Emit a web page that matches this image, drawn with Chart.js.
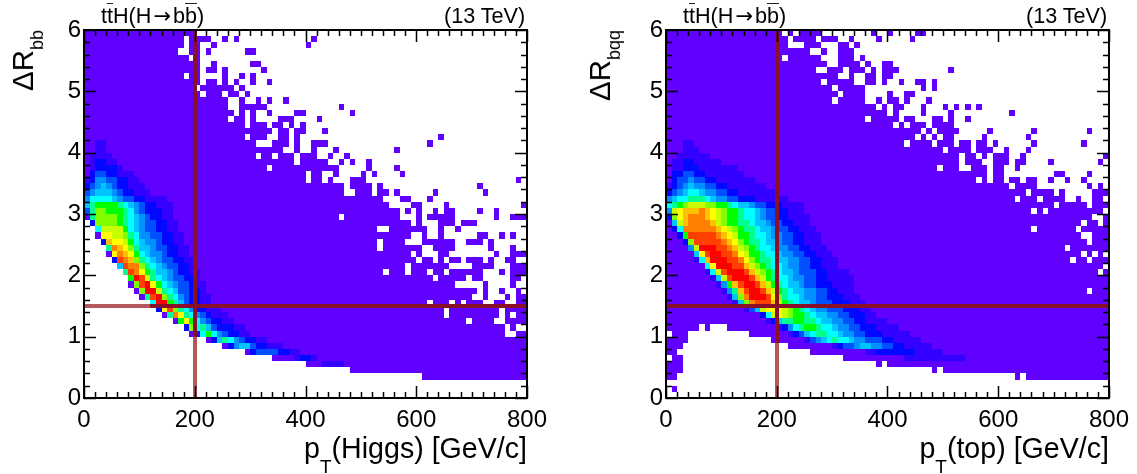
<!DOCTYPE html>
<html>
<head>
<meta charset="utf-8">
<title>ttH</title>
<script src="https://cdn.jsdelivr.net/npm/chart.js@4"></script>
<style>
  html, body { margin: 0; padding: 0; background: #fff; }
  #page { position: relative; width: 1137px; height: 474px; overflow: hidden; font-family: "Liberation Sans", sans-serif; color: #000; }
  canvas { position: absolute; top: 0; }
  .txt { position: absolute; white-space: nowrap; line-height: 1; }
  .head { font-size: 21.6px; top: 5px; }
  .ov { position: relative; }
  .ov::after { content: ''; position: absolute; left: 0; right: 0; top: 0; height: 1px; background: #222; }
  .arrow { font-family: "DejaVu Sans", sans-serif; font-size: 21px; margin: 0 2px; }
  .xt { font-size: 28.6px; top: 434px; }
  .xt sub { font-size: 19px; line-height: 0; vertical-align: -15px; }
  .yt { font-size: 29.5px; top: 30px; transform: translateX(-100%) rotate(-90deg); transform-origin: right top; }
  .yt sub { font-size: 18px; line-height: 0; vertical-align: -10px; }
</style>
</head>
<body>
<div id="page">
  <canvas id="higgsChart" width="560" height="474" style="left:0;width:560px;height:474px"></canvas>
  <canvas id="topChart" width="559" height="474" style="left:578px;width:559px;height:474px"></canvas>

  <div class="txt head" style="left:101px">t<span class="ov">t</span>H(H<span class="arrow">→</span>b<span class="ov">b</span>)</div>
  <div class="txt head" style="left:444px">(13 TeV)</div>
  <div class="txt yt" style="left:8px">ΔR<sub>bb</sub></div>
  <div class="txt xt" style="right:610px">p<sub>T</sub>(Higgs) [GeV/c]</div>

  <div class="txt head" style="left:683px">t<span class="ov">t</span>H(H<span class="arrow">→</span>b<span class="ov">b</span>)</div>
  <div class="txt head" style="left:1026px">(13 TeV)</div>
  <div class="txt yt" style="left:585px">ΔR<sub>bqq</sub></div>
  <div class="txt xt" style="right:28px">p<sub>T</sub>(top) [GeV/c]</div>
</div>

<script>
const xTickLabels = [0, 200, 400, 600, 800];
const yTickLabels = [0, 1, 2, 3, 4, 5, 6];
const xCut = 200;
const yCut = 1.5;
const xBinWidth = 10;
const yBinWidth = 0.1;

// colour level of each bin, top row (dR 5.9-6.0) first, '.' = empty bin
const levels = '0123456789abcdef';
const levelColors = [
  '#6000ff', '#3400ff', '#0008ff', '#0050ff', '#0090ff', '#00c4ff', '#00ffff', '#00ff90',
  '#00ff00', '#80ff00', '#c8ff00', '#ffff00', '#ffc000', '#ff8000', '#ff4000', '#ff0000'
];

const higgsRows = [
  '0000000000 0000000000 .......... .......... .......... .......... .......... ..........',
  '0000000000 00000000.0 000..0.0.. .......... .0........ .......... .......... ..........',
  '0000000000 00000000.0 0..0...... .......... 0......... .......... .......... ..........',
  '0000000000 0000000..0 0.0......0 0......... .......... .......... .......... ..........',
  '0000000000 000000000. 0......... .......... .......... .......... .......... ..........',
  '0000000000 0000000000 0..0...... 00........ .......... .......... .......... ..........',
  '0000000000 0000000000 0.00.0.... ..0....... .......... .......... .......... ..........',
  '0000000000 00000000.0 0....0..0. 0......... .......... .......... .......... ..........',
  '0000000000 0000000000 0.00.0.0.. 0..0...... .......... .......... .......... ..........',
  '0000000000 0000000000 .000000.0. .......... .......... .......... .......... ..........',
  '0000000000 0000000000 0.000.00.0 .......... .......... .......... .......... ..........',
  '0000000000 0000000000 000000..0. .0.0..0... .......... .......... .......... ..........',
  '0000000000 0000000000 000000..00 000....... ......0... .......... .......... ..........',
  '0000000000 0000000000 0000000.0. 0..0....00 ........0. .......... .......... ..........',
  '0000000000 0000000000 000000.00. 0....000.. ..0....... .......... .......... ..........',
  '0000000000 0000000000 000000000. 000.00.0.0 .......... .......... .......... ..........',
  '0000000000 0000000000 0000000000 0000.00.00 ...0...... .......... .......... ..........',
  '0000000000 0000000000 000000000. 000..00.0. .......... .......... ....0..... ..........',
  '0011000000 0000000000 0000000000 0...000.0. .000...... .......... ..0....... ..........',
  '0011000000 0000000000 0000000000 000000..0. .0...0.... ......0... .......... ..........',
  '0111100000 0000000000 0000000000 0.00.000.0 00..0..0.. .......... .......... ..........',
  '0122110000 0000000000 0000000000 00000000.0 0000..0.0. .0........ .......... ..........',
  '0122221000 0000000000 0000000000 000.000000 000000.... .0....0... .......... ..........',
  '0233221110 0000000000 0000000000 0000000000 .00..0.... 0.0....0.. .......... ..........',
  '1244332211 0000000000 0000000000 0000000000 .00.0...00 0......... .......... ........0.',
  '2345432211 1000000000 0000000000 0000000000 0000000.00 00.0...... .......... .0........',
  '3455543221 1100000000 0000000000 0000000000 0000000..0 00.00.0... ...0...... ..0.......',
  '4666654332 2111100000 0000000000 0000000000 0000000000 0000...00. ..0....... ..........',
  '5788887654 3221110000 0000000000 0000000000 0000000000 00000....0 0....0.... .........0',
  '3799888764 3222110000 0000000000 0000000000 0000000000 0000000.0. 0..0.00... .0..0.....',
  '0799998765 4322110000 0000000000 0000000000 000000.000 0000000... 0.00000... ....0..000',
  '.299998765 4332211000 0000000000 0000000000 0000000000 000000000. 0...000.00 0.........',
  '..6aaaa865 4332211000 0000000000 0000000000 0000000000 000..00000 00..0..0.. ..........',
  '..0bbaa976 4433221100 0000000000 0000000000 0000000000 000000000. .0..0..... .00..0.0..',
  '...2cbba86 5443221100 0000000000 0000000000 0000000000 000.0000.. .000000..0 00.0......',
  '....7dcb97 5543322110 0000000000 0000000000 0000000000 000.000000 0..0000... ...0...0..',
  '....0bdcb8 6544322110 0000000000 0000000000 0000000000 000000000. 0...00.... ....0..000',
  '.....2edc9 7654332211 0000000000 0000000000 0000000000 0000000000 .00.0.00.0 00.0..00..',
  '......5edd 9765433221 0000000000 0000000000 0000000000 00000000.0 000000.... 0000...000',
  '.......7ed b875543221 1000000000 0000000000 0000000000 0000.000.0 00.00.0000 00...0.000',
  '........8f ea76543322 1000000000 0000000000 0000000000 0000000000 000.00000. 00.....00.',
  '........09 efb8654332 1100000000 0000000000 0000000000 0000000000 0000000... ..0....0..',
  '.........0 9ffa765332 2100000000 0000000000 0000000000 0000000000 0000000000 0.0..0..0.',
  '.......... 07ef976432 2110000000 0000000000 0000000000 0000000000 0000000000 ..0...0.00',
  '.......... ..6ff87532 2110000000 0000000000 0000000000 0000000000 00.000.0.0 00..00..00',
  '.......... ...2be9764 2211100000 0000000000 0000000000 0000000000 00000.0000 00000.0000',
  '.......... ....07db76 4321110000 0000000000 0000000000 0000000000 00000.0000 00000.0.00',
  '.......... ......08b8 6432211000 0000000000 0000000000 0000000000 000000000. 0000..0000',
  '.......... ........29 6753222110 0000000000 0000000000 0000000000 0000000000 000000.0..',
  '.......... .........0 1686432211 0000000000 0000000000 0000000000 0000000000 000000..00',
  '.......... .......... ..02576432 2110000000 0000000000 0000000000 0000000000 0000000000',
  '.......... .......... .....02455 3221110000 0000000000 0000000000 0000000000 0000000000',
  '.......... .......... .........0 2333322110 0000000000 0000000000 0000000000 0000000000',
  '.......... .......... .......... ....000012 2100000000 0000000000 0000000000 0000000000',
  '.......... .......... .......... .......... 0001111000 0000000000 0000000000 0000000000',
  '.......... .......... .......... .......... ........00 0000000000 0000000000 0000000000',
  '.......... .......... .......... .......... .......... .......... .000000000 0000000000',
  '.......... .......... .......... .......... .......... .......... .......... ..........',
  '.......... .......... .......... .......... .......... .......... .......... ..........',
  '.......... .......... .......... .......... .......... .......... .......... ..........'
];

const topRows = [
  '0000000000 0000000000 0.0.0000.. .......0.. 0....00... .......... .......... ..........',
  '0000000000 0000000000 00.0000.00 0..0....0. ....0..... .......... .......... ..........',
  '0000000000 0000000000 00...000.. .00.0..... .......... .......... .......... ..........',
  '0000000000 0000000000 000000..0. .000...... .......... .......... .......... ..........',
  '0000000000 0000000000 0.000000.. .000.0.... .......... .......... .......... ..........',
  '0000000000 0000000000 000000000. .0000.0..0 0......... .......... .......... ..........',
  '0000000000 0000000000 0000000..0 00.000.0.0 00........ .0........ .......... ..........',
  '0000000000 0000000000 0000000000 0..0..00.0 0......... .......... .......... ..........',
  '0000000000 0000000000 00000000.0 0000..00.0 ..0..00.0. .......... .......... ..........',
  '0000000000 0000000000 0000000000 .00000.... ......0.0. .......... .......... ..........',
  '0000000000 0000000000 0000000000 0.0000.... 0..00..... .......... .......... ..........',
  '0000000000 0000000000 0000000000 .00000..0. 00.0...0.. .......... .......... ..........',
  '0000000000 0000000000 0000000000 00000000.0 .00...0... 0.0.0.0... .......... ..........',
  '0000000000 0000000000 0000000000 0000000000 .0....0... .0........ ..0....... ..........',
  '0000000000 0000000000 0000000000 000000.000 00.00...00 .0..0..... .......... ..........',
  '0000000000 0000000000 0000000000 0000000000 0.0.000.00 00........ .......... ..........',
  '0000000000 0000000000 0000000000 0000000000 000000.0.0 000.....0. ......0... ......0...',
  '0000000000 0000000000 0000000000 0000000000 00000.0.0. 00.....0.. .....0.... ..........',
  '0001100000 0000000000 0000000000 0000000000 000.0000.0 00.00.00.0 ......0... .....0....',
  '0001110000 0000000000 0000000000 0000000000 0000000000 .0000.000. .0...0.... ..........',
  '0011111100 0000000000 0000000000 0000000000 0000000000 000.00.0.0 00..0..... .........0',
  '0112211111 0000000000 0000000000 0000000000 0000000000 000.000..0 00.00....0 ........0.',
  '0112221111 1110000000 0000000000 0000000000 000000000. 000..000.0 0..0...... ..........',
  '0223322111 1111000000 0000000000 0000000000 0000000000 00000000.0 0......... 00....0...',
  '0233433221 1111110000 0000000000 0000000000 0000000000 000000.0.0 0.00.00..0 ..0..0....',
  '1234544332 2111111100 0000000000 0000000000 0000000000 0000000000 00.0000... ......0.0.',
  '2345665443 3221111111 0000000000 0000000000 0000000000 0000000000 00000.0000 .0.....000',
  '4566777654 4332221111 1100000000 0000000000 0000000000 0000000000 000.000.00 00..0..00.',
  '6789aaa998 8765543322 2111100000 0000000000 0000000000 0000000000 0000000000 .00000.000',
  '4abcccdcba 9887665433 2211100000 0000000000 0000000000 0000000000 000000.0.0 000000000.',
  '29bcdddcba 9887665433 2211110000 0000000000 0000000000 0000000000 0000000000 0000000..0',
  '05acddddca 9887765543 3221110000 0000000000 0000000000 0000000000 0000000000 00000.00.0',
  '026ddddddc ba98776554 3322111000 0000000000 0000000000 0000000000 000000.000 0000.00000',
  '0028eeeeed cba8876654 4332211100 0000000000 0000000000 0000000000 0000000000 00000..000',
  '00029eeeee dcb9877655 4332211100 0000000000 0000000000 0000000000 0000000000 000000.000',
  '00004afffe edca987665 4433221110 0000000000 0000000000 0000000000 0000000000 00.0000000',
  '000005beff eedba88766 5443322111 0000000000 0000000000 0000000000 0000000000 00000.0.0.',
  '0000016cff feedb98776 5544332211 1000000000 0000000000 0000000000 0000000000 000.00.000',
  '00000006bf ffeeca9876 6544332211 1000000000 0000000000 0000000000 0000000000 000000000.',
  '000000016a efffeca987 6554333221 1110000000 0000000000 0000000000 0000000000 00000000.0',
  '0000000015 aefffeca87 6654433221 1111000000 0000000000 0000000000 0000000000 0000000000',
  '0000000001 48ceffeca8 7655433222 1111000000 0000000000 0000000000 0000000000 0000000000',
  '0000000000 147ceffeca 8765544332 2111000000 0000000000 0000000000 0000000000 000000.000',
  '0000000000 0159dfffeb 9766544332 2211100000 0000000000 0000000000 0000000000 0000000000',
  '0000000000 00159deeec a876554333 2221110000 0000000000 0000000000 0000000000 0000000000',
  '0000000000 0000135abb ba98765443 3322211000 0000000000 0000000000 0000000000 0000000000',
  '0000000000 000000026a ba98876554 4332221100 0000000000 0000000000 0000000000 0000000000',
  '0000000000 0000000012 5778877655 4433221111 0000000000 0000000000 0000000000 0000000000',
  '000000.0.. .000000000 1246788766 5443322211 1100000000 0000000000 0000000000 0000000000',
  '.000...... .....00000 0012356776 6544332221 1111000000 0000000000 0000000000 0000000000',
  '0000...... .........0 0000013456 7665443332 2111110000 0000000000 0000000000 0000000000',
  '000....... .......... ..00000000 1233455443 3221111100 0000000000 0000000000 0000000000',
  '00........ .......... ......0000 0000001122 2222211111 0000000000 0000000000 0000000000',
  '.00....... .......... .......... ..00000000 0001111111 1111000000 0000000000 0000000000',
  '000....... .......... .......... ........0. 0000000000 0000000000 0000000000 0000000000',
  '000....... .......... .......... .......... ........0. 0000000000 0000000000 0000000000',
  '00........ .......... .......... .......... .......... .......... ...0.00000 0000000000',
  '.......... .......... .......... .......... .......... .......... .......... ..........',
  '.0........ .......... .......... .......... .......... .......... .......... ..........',
  '.......... .......... .......... .......... .......... .......... .......... ..........'
];

function rowsToCells(rows) {
  const cells = [];
  rows.forEach((row, r) => {
    row.replace(/ /g, '').split('').forEach((ch, c) => {
      if (ch === '.') return;
      cells.push({
        x: (c + 0.5) * xBinWidth,
        y: yTickLabels[yTickLabels.length - 1] - (r + 0.5) * yBinWidth,
        level: levels.indexOf(ch)
      });
    });
  });
  return cells;
}

// bins and cut lines, under the frame
const cellsPlugin = {
  id: 'cells',
  beforeDatasetsDraw(chart) {
    const { ctx, scales: { x, y } } = chart;
    const pts = chart.data.datasets[0].data;
    const filled = new Set();
    pts.forEach(p => {
      const l = Math.round(x.getPixelForValue(p.x - xBinWidth / 2));
      const r = Math.round(x.getPixelForValue(p.x + xBinWidth / 2));
      const t = Math.round(y.getPixelForValue(p.y + yBinWidth / 2));
      const b = Math.round(y.getPixelForValue(p.y - yBinWidth / 2));
      ctx.fillStyle = levelColors[p.level];
      ctx.fillRect(l, t, r - l, b - t);
      filled.add(Math.floor(p.x / xBinWidth) + ':' + Math.floor(p.y / yBinWidth + 0.001));
    });

    const dark = '#8a0f28';
    const light = '#b4585c';
    const has = (cx, cy) => filled.has(cx + ':' + cy);

    // horizontal cut, one piece per bin so it can change colour over empty bins
    const cutY = Math.round(y.getPixelForValue(yCut)) - 2;
    const cy = Math.round(yCut / yBinWidth);
    for (let c = 0; c < 80; c++) {
      const l = Math.round(x.getPixelForValue(c * xBinWidth));
      const r = Math.round(x.getPixelForValue((c + 1) * xBinWidth));
      ctx.fillStyle = has(c, cy) || has(c, cy - 1) ? dark : light;
      ctx.fillRect(l, cutY, r - l, 4);
    }
    // vertical cut
    const cutX = Math.round(x.getPixelForValue(xCut)) - 2;
    const cx = Math.round(xCut / xBinWidth);
    for (let r = 0; r < 60; r++) {
      const t = Math.round(y.getPixelForValue((r + 1) * yBinWidth));
      const b = Math.round(y.getPixelForValue(r * yBinWidth));
      ctx.fillStyle = has(cx, r) || has(cx - 1, r) ? dark : light;
      ctx.fillRect(cutX, t, 4, b - t);
    }
  },
  afterDatasetsDraw(chart) {
    const { ctx, chartArea: a, scales: { x, y } } = chart;
    ctx.save();
    ctx.strokeStyle = '#000';
    ctx.lineWidth = 1.5;
    ctx.beginPath();
    for (let v = 0; v <= 800; v += 20) {
      const px = Math.round(x.getPixelForValue(v)) + 0.5;
      const len = v % 200 === 0 ? 12 : 6;
      ctx.moveTo(px, a.bottom); ctx.lineTo(px, a.bottom - len);
      ctx.moveTo(px, a.top); ctx.lineTo(px, a.top + len);
    }
    for (let i = 0; i <= 30; i++) {
      const py = Math.round(y.getPixelForValue(i * 0.2)) + 0.5;
      const len = i % 5 === 0 ? 12 : 6;
      ctx.moveTo(a.left, py); ctx.lineTo(a.left + len, py);
      ctx.moveTo(a.right, py); ctx.lineTo(a.right - len, py);
    }
    ctx.stroke();
    ctx.lineWidth = 2;
    ctx.strokeRect(a.left, a.top, a.right - a.left, a.bottom - a.top);
    ctx.restore();
  }
};

function makeChart(id, rows, rightPad, leftW) {
  return new Chart(document.getElementById(id), {
    type: 'scatter',
    data: { datasets: [{ data: rowsToCells(rows), pointRadius: 0, pointHoverRadius: 0 }] },
    plugins: [cellsPlugin],
    options: {
      responsive: false,
      animation: false,
      events: [],
      layout: { padding: { top: 30, right: rightPad, left: 0, bottom: 0 } },
      plugins: { legend: { display: false }, tooltip: { enabled: false } },
      scales: {
        x: {
          type: 'linear',
          min: xTickLabels[0],
          max: xTickLabels[xTickLabels.length - 1],
          afterBuildTicks: s => { s.ticks = xTickLabels.map(v => ({ value: v })); },
          afterFit: s => { s.height = 76; },
          grid: { display: false, drawTicks: false },
          border: { display: false },
          ticks: { color: '#000', padding: 8, maxRotation: 0, font: { family: 'Liberation Sans', size: 24 } }
        },
        y: {
          type: 'linear',
          min: yTickLabels[0],
          max: yTickLabels[yTickLabels.length - 1],
          afterBuildTicks: s => { s.ticks = yTickLabels.map(v => ({ value: v })); },
          afterFit: s => { s.width = leftW; },
          grid: { display: false, drawTicks: false },
          border: { display: false },
          ticks: { color: '#000', padding: 3, font: { family: 'Liberation Sans', size: 24 } }
        }
      }
    }
  });
}

makeChart('higgsChart', higgsRows, 33, 84);
makeChart('topChart', topRows, 28, 88);
</script>
</body>
</html>
